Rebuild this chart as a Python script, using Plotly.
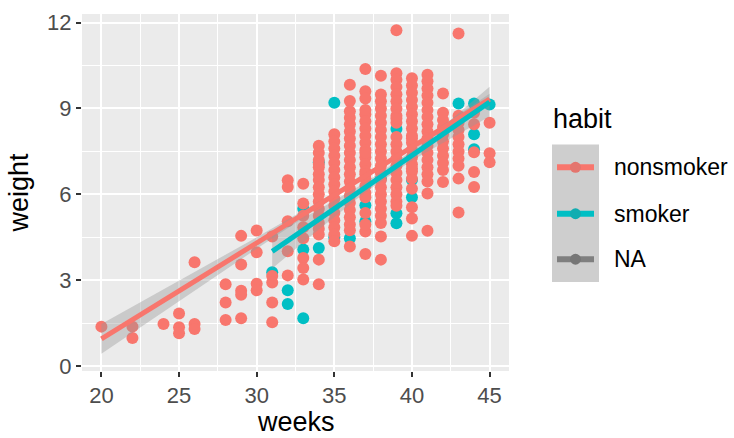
import plotly.graph_objects as go

# ---- births: gestation (weeks) vs birth weight (lb), split by smoking habit ----
# nonsmoker mothers
ns_weeks = (
    [20] + [22, 22] + [24] + [25, 25, 25] + [26, 26, 26] + [28, 28, 28]
    + [29] * 5 + [30] * 4 + [31] * 5 + [32] * 5 + [33] * 8
    + [34] * 17 + [35] * 16 + [36] * 21 + [37] * 23 + [38] * 22
    + [39] * 21 + [40] * 21 + [41] * 18 + [42] * 11 + [43] * 11
    + [44] * 5 + [45] * 3
)
ns_weight = (
    [1.38]
    + [1.38, 0.98]
    + [1.47]
    + [1.84, 1.36, 1.15]
    + [3.63, 1.47, 1.30]
    + [2.86, 2.22, 1.61]
    + [4.55, 3.55, 2.63, 2.49, 1.67]
    + [4.74, 3.98, 2.88, 2.65]
    + [4.53, 3.15, 2.92, 2.22, 1.53]
    + [6.49, 6.26, 5.06, 4.01, 3.17]
    + [6.37, 5.68, 5.25, 4.85, 4.47, 3.78, 3.43, 3.03]
    # week 34
    + [7.70, 7.45, 7.20, 6.95, 6.70, 6.50, 6.25, 6.00, 5.75, 5.50, 5.25,
       5.00, 4.80, 4.60, 3.72, 2.86, 7.06]
    # week 35
    + [8.10, 7.85, 7.60, 7.35, 7.10, 6.85, 6.60, 6.35, 6.10, 5.85, 5.60,
       5.35, 5.10, 4.85, 4.60, 4.36]
    # week 36
    + [9.83, 9.26, 8.68, 8.45, 8.20, 7.95, 7.70, 7.45, 7.20, 6.95, 6.70,
       6.45, 6.20, 5.95, 5.70, 5.45, 5.20, 4.95, 4.75, 4.18, 8.90]
    # week 37
    + [10.38, 9.60, 8.80, 8.55, 8.30, 8.05, 7.80, 7.55, 7.30, 7.05, 6.80,
       6.55, 6.30, 6.05, 5.90, 5.35, 4.70, 3.92, 9.35, 8.95, 6.70, 7.45, 4.95]
    # week 38
    + [10.14, 9.49, 9.25, 9.00, 8.75, 8.50, 8.25, 8.00, 7.75, 7.50, 7.25,
       7.00, 6.75, 6.50, 6.25, 6.00, 5.75, 5.50, 5.25, 5.00, 4.53, 3.72]
    # week 39
    + [11.73, 10.23, 10.00, 9.75, 9.50, 9.25, 9.00, 8.75, 8.50, 8.00, 7.75,
       7.50, 7.25, 7.00, 6.75, 6.50, 6.25, 6.00, 5.75, 5.60, 8.65]
    # week 40
    + [10.06, 9.80, 9.55, 9.30, 9.05, 8.80, 8.55, 8.30, 8.05, 7.80, 7.55,
       7.30, 7.05, 6.80, 6.55, 6.20, 5.55, 5.16, 4.55, 7.95, 6.90]
    # week 41
    + [10.18, 9.95, 9.70, 9.45, 9.20, 8.95, 8.70, 8.45, 8.20, 7.95, 7.70,
       7.45, 7.20, 6.95, 6.70, 6.45, 6.03, 4.73]
    # week 42
    + [9.52, 8.85, 8.60, 8.35, 8.10, 7.85, 7.60, 7.35, 7.10, 6.85, 6.43]
    # week 43
    + [11.62, 8.75, 8.50, 8.25, 8.00, 7.75, 7.50, 7.25, 7.00, 6.55, 5.37]
    # week 44
    + [8.85, 8.45, 7.47, 6.78, 6.26]
    # week 45
    + [8.50, 7.44, 7.12]
)

# smoker mothers
sm_weeks = [31, 32, 32, 33, 33, 33, 34, 34, 35, 35, 36, 37, 37, 38,
            39, 39, 39, 40, 40, 43, 44, 44, 44, 45]
sm_weight = [3.28, 2.65, 2.17, 5.50, 4.07, 1.67, 7.12, 4.13, 9.20, 4.50,
             4.47, 5.62, 5.05, 6.55, 8.28, 5.34, 4.99, 6.50, 5.90, 9.17,
             9.17, 8.10, 7.58, 9.14]

# linear fits with 95% bands
ns_fit_weeks = [20, 25, 30, 35, 40, 45]
ns_fit = [0.95, 2.63, 4.30, 5.98, 7.65, 9.33]
ns_lo = [0.43, 2.27, 4.10, 5.90, 7.59, 9.15]
ns_hi = [1.47, 2.99, 4.50, 6.06, 7.71, 9.51]

sm_fit_weeks = [31, 34, 37, 40, 42, 45]
sm_fit = [4.01, 5.12, 6.24, 7.35, 8.09, 9.22]
sm_lo = [3.41, 4.77, 6.07, 7.18, 7.81, 8.72]
sm_hi = [4.61, 5.47, 6.41, 7.52, 8.37, 9.76]

groups = ["nonsmoker", "smoker", "NA"]
colors = ["#F8766D", "#00BFC4", "#7F7F7F"]
key_dots = ["#E4756E", "#11ADB1", "#767676"]

band_fill = "rgba(153,153,153,0.4)"
font = "Liberation Sans, Arial, sans-serif"

fig = go.Figure()

# points: smokers underneath, nonsmokers on top
fig.add_trace(go.Scatter(x=sm_weeks, y=sm_weight, mode="markers",
                         marker=dict(color=colors[1], size=12, line=dict(width=0)),
                         showlegend=False, hoverinfo="skip"))
fig.add_trace(go.Scatter(x=ns_weeks, y=ns_weight, mode="markers",
                         marker=dict(color=colors[0], size=12, line=dict(width=0)),
                         showlegend=False, hoverinfo="skip"))

# confidence bands and fitted lines
for wk, lo, hi in [(ns_fit_weeks, ns_lo, ns_hi), (sm_fit_weeks, sm_lo, sm_hi)]:
    fig.add_trace(go.Scatter(x=wk + wk[::-1], y=hi + lo[::-1], mode="lines",
                             fill="toself", fillcolor=band_fill,
                             line=dict(width=0), showlegend=False, hoverinfo="skip"))
for wk, fit, col in [(ns_fit_weeks, ns_fit, colors[0]),
                     (sm_fit_weeks, sm_fit, colors[1])]:
    fig.add_trace(go.Scatter(x=wk, y=fit, mode="lines",
                             line=dict(color=col, width=5),
                             showlegend=False, hoverinfo="skip"))

axis_common = dict(
    showgrid=True, gridcolor="white", gridwidth=1.7,
    zeroline=False, showline=False,
    ticks="outside", ticklen=5, tickwidth=1.6, tickcolor="#333333",
    tickfont=dict(family=font, size=22, color="#4D4D4D"),
)

fig.update_xaxes(range=[18.75, 46.25], tickvals=[20, 25, 30, 35, 40, 45],
                 minor=dict(tickvals=[22.5, 27.5, 32.5, 37.5, 42.5],
                            showgrid=True, gridcolor="white", gridwidth=0.8,
                            ticks=""),
                 **axis_common)
fig.update_yaxes(range=[-0.17, 12.3], tickvals=[0, 3, 6, 9, 12],
                 minor=dict(tickvals=[1.5, 4.5, 7.5, 10.5],
                            showgrid=True, gridcolor="white", gridwidth=0.8,
                            ticks=""),
                 **axis_common)

# legend drawn beside the panel
shapes = [dict(type="rect", xref="paper", yref="paper", layer="below",
               x0=(552 - 82) / 427, x1=(599 - 82) / 427,
               y0=(371 - 281) / 361, y1=(371 - 142) / 361,
               fillcolor="#CECECE", line=dict(width=0))]
annotations = [
    dict(text="habit", xref="paper", yref="paper", x=(551 - 82) / 427,
         y=(371 - 116) / 361, xanchor="left", yanchor="middle", showarrow=False,
         font=dict(family=font, size=27, color="black")),
    dict(text="weeks", xref="paper", yref="paper", x=0.5, y=(371 - 423) / 361,
         xanchor="center", yanchor="middle", showarrow=False,
         font=dict(family=font, size=27, color="black")),
    dict(text="weight", xref="paper", yref="paper", x=(18 - 82) / 427, y=0.5,
         xanchor="center", yanchor="middle", showarrow=False, textangle=-90,
         font=dict(family=font, size=27, color="black")),
]
key_y = [165, 212, 258]
for name, col, dot, ky in zip(groups, colors, key_dots, key_y):
    yc = (371 - ky) / 361
    shapes.append(dict(type="line", xref="paper", yref="paper",
                       x0=(557 - 82) / 427, x1=(594 - 82) / 427, y0=yc, y1=yc,
                       line=dict(color=col, width=6)))
    r = 5.5
    shapes.append(dict(type="circle", xref="paper", yref="paper",
                       x0=(575.5 - r - 82) / 427, x1=(575.5 + r - 82) / 427,
                       y0=(371 - ky - r) / 361, y1=(371 - ky + r) / 361,
                       fillcolor=dot, line=dict(width=0)))
    annotations.append(dict(text=name, xref="paper", yref="paper",
                            x=(612 - 82) / 427, y=yc, xanchor="left",
                            yanchor="middle", showarrow=False,
                            font=dict(family=font, size=23, color="black")))

fig.update_layout(
    width=734, height=438,
    margin=dict(l=82, r=225, t=10, b=67),
    paper_bgcolor="white", plot_bgcolor="#EBEBEB",
    showlegend=False,
    shapes=shapes, annotations=annotations,
)

fig.write_html("out.html")
